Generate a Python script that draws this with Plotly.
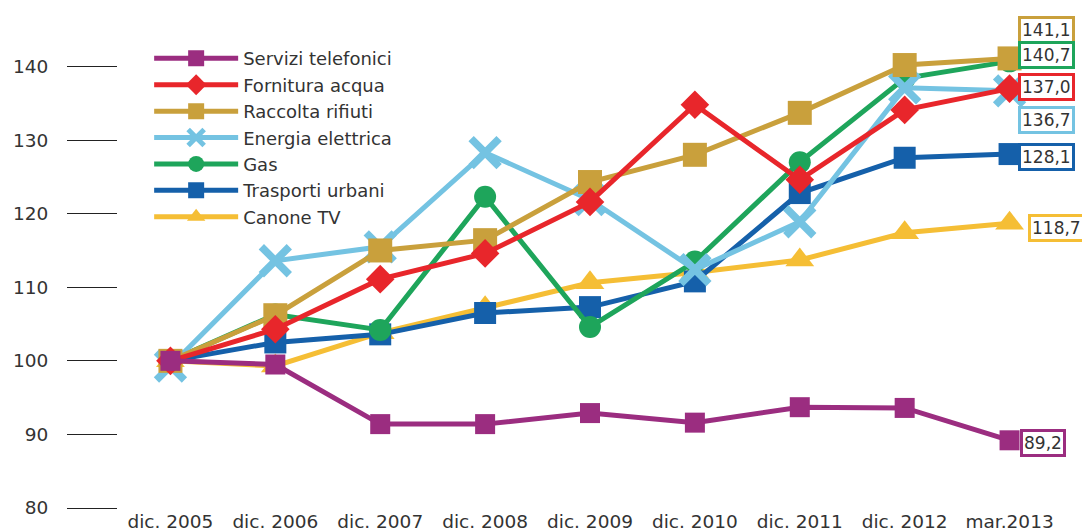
import plotly.graph_objects as go

categories = ["dic. 2005", "dic. 2006", "dic. 2007", "dic. 2008", "dic. 2009",
              "dic. 2010", "dic. 2011", "dic. 2012", "mar.2013"]

servizi_telefonici = [100, 99.5, 91.4, 91.4, 92.9, 91.6, 93.7, 93.6, 89.2]
fornitura_acqua = [100, 104.3, 111.1, 114.6, 121.6, 134.8, 124.6, 134.1, 137.0]
raccolta_rifiuti = [100, 106.2, 115.0, 116.4, 124.3, 128.0, 133.7, 140.2, 141.1]
energia_elettrica = [99.3, 113.6, 115.5, 128.3, 121.9, 112.4, 118.9, 137.1, 136.7]
gas = [100, 106.3, 104.2, 122.3, 104.6, 113.5, 127.0, 138.4, 140.7]
trasporti_urbani = [100, 102.5, 103.6, 106.5, 107.3, 110.8, 122.8, 127.6, 128.1]
canone_tv = [100, 99.3, 103.8, 107.2, 110.6, 112.0, 113.7, 117.4, 118.7]

y_ticks = [80, 90, 100, 110, 120, 130, 140]

series = [
    ("Servizi telefonici", servizi_telefonici, "#9B2D80", "square", 20),
    ("Fornitura acqua", fornitura_acqua, "#E8262B", "diamond", 22),
    ("Raccolta rifiuti", raccolta_rifiuti, "#C9A03C", "square", 24),
    ("Energia elettrica", energia_elettrica, "#74C3E2", "x-thin", 28),
    ("Gas", gas, "#1EA55B", "circle", 22),
    ("Trasporti urbani", trasporti_urbani, "#1560AA", "square", 22),
    ("Canone TV", canone_tv, "#F5BE35", "triangle-up", 25),
]

# label placement tweaks (pixels)
label_shift = {
    "Servizi telefonici": (10, -3),
    "Fornitura acqua": (8, 2),
    "Raccolta rifiuti": (8, 28),
    "Energia elettrica": (8, -29),
    "Gas": (8, 6),
    "Trasporti urbani": (8, -3),
    "Canone TV": (18, -5),
}

fig = go.Figure()
for name, vals, color, sym, size in reversed(series):
    if sym == "x-thin":
        mk = dict(symbol=sym, size=size, color=color, line=dict(width=7.5, color=color))
    else:
        mk = dict(symbol=sym, size=size, color=color, line=dict(width=0))
    fig.add_trace(go.Scatter(
        x=categories, y=vals, name=name, mode="lines+markers",
        line=dict(color=color, width=5),
        marker=mk,
    ))

annotations = []
for name, vals, color, sym, size in series:
    xs, ys = label_shift[name]
    annotations.append(dict(
        x=categories[-1], y=vals[-1], xref="x", yref="y",
        text=f"{vals[-1]:.1f}".replace(".", ","),
        showarrow=False, xanchor="left", yanchor="middle",
        xshift=xs, yshift=ys,
        font=dict(family="DejaVu Sans", size=17, color="#333333"),
        bgcolor="white", bordercolor=color, borderwidth=3, borderpad=1,
    ))

# page body has an 8px margin, so the figure is 8px smaller and offset
fig.update_layout(
    width=1082, height=522,
    margin=dict(l=109.5, r=27.5, t=7, b=22, autoexpand=False),
    paper_bgcolor="white", plot_bgcolor="white",
    font=dict(family="DejaVu Sans", color="#333333"),
    showlegend=True,
    legend=dict(
        x=0.033, y=0.949, xanchor="left", yanchor="top",
        traceorder="reversed", bgcolor="rgba(255,255,255,0)",
        font=dict(family="DejaVu Sans", size=18, color="#333333"),
        itemwidth=84,
    ),
    annotations=annotations,
    xaxis=dict(
        type="category", range=[-0.5, 8.5], showgrid=False, zeroline=False,
        showline=False, ticks="", automargin=False,
        tickfont=dict(size=18.5, color="#333333"),
    ),
    yaxis=dict(
        range=[80, 147], tickvals=y_ticks, showgrid=False, zeroline=False,
        showline=False, ticks="outside", ticklen=50, tickwidth=1.3,
        tickcolor="#222222", ticklabelstandoff=15, automargin=False,
        tickfont=dict(size=18.5, color="#333333"),
    ),
)

fig.write_html("out.html")
